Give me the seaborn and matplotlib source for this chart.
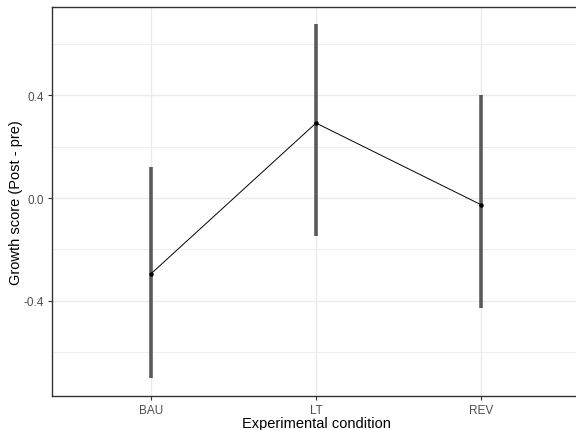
import numpy as np
import pandas as pd
import seaborn as sns
import matplotlib
matplotlib.use("Agg")
import matplotlib.pyplot as plt
from matplotlib.ticker import MultipleLocator

# values
conditions = ["BAU", "LT", "REV"]
means = [-0.295, 0.292, -0.026]
lower = [-0.701, -0.149, -0.429]
upper = [0.122, 0.678, 0.400]

df = pd.DataFrame({"condition": conditions, "mean": means,
                   "lower": lower, "upper": upper})
df["pos"] = np.arange(len(df))

sns.set_theme(style="whitegrid")
plt.rcParams['font.family'] = ['Liberation Sans', 'DejaVu Sans']

fig = plt.figure(figsize=(5.76, 4.31), dpi=100)
ax = fig.add_axes([52 / 576, 1 - 397 / 431, 528 / 576, 389 / 431])

# error bars
ax.vlines(df["pos"], df["lower"], df["upper"], color="#5a5a5a", lw=2.6, zorder=2)
# mean line + points
sns.lineplot(data=df, x="pos", y="mean", color="black", lw=0.7,
             marker="o", markersize=3.2, markeredgewidth=0, ax=ax, zorder=3)

ax.set_xlim(-0.6, 2.6)
ax.set_ylim(-0.771, 0.744)
ax.set_xticks(df["pos"])
ax.set_xticklabels(df["condition"])
ax.yaxis.set_major_locator(MultipleLocator(0.4))
ax.yaxis.set_minor_locator(MultipleLocator(0.2))
ax.set_yticks([-0.4, 0.0, 0.4])
ax.set_yticklabels(["-0.4", "0.0", "0.4"])

ax.set_facecolor("white")
ax.grid(which="major", color="#ebebeb", lw=1.0)
ax.grid(which="minor", axis="y", color="#ebebeb", lw=0.6)
ax.set_axisbelow(True)
for s in ax.spines.values():
    s.set_color("#333333")
    s.set_linewidth(1.0)

ax.tick_params(axis="both", which="major", length=3, width=0.8, color="#333333",
               labelsize=8.5, labelcolor="#4d4d4d", pad=2.5, bottom=True, left=True)
ax.tick_params(axis="y", which="minor", length=0)

ax.set_xlabel("Experimental condition", fontsize=10.5, color="black", labelpad=0.5)
ax.set_ylabel("Growth score (Post - pre)", fontsize=10.5, color="black", labelpad=1)

fig.savefig("out.png", dpi=100)
